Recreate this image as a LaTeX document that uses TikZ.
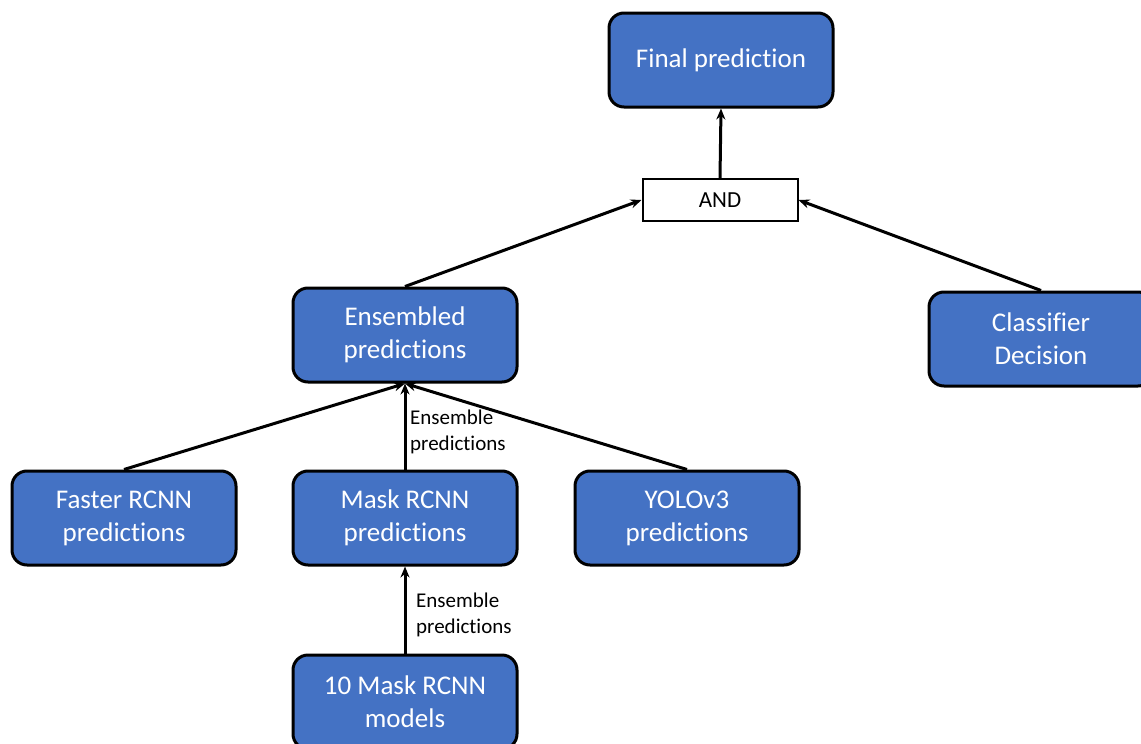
\documentclass[tikz,border=0pt]{standalone}
\usepackage{fontspec}
\setmainfont{Carlito}[Ligatures={NoCommon}]
\usepackage{xcolor}
\usetikzlibrary{arrows.meta, positioning}

\definecolor{boxblue}{HTML}{4472C4}

\tikzset{
    stage/.style={draw=black, line width=3pt, fill=boxblue, rounded corners=15pt,
        minimum width=224pt, minimum height=94pt, text=white, align=center,
        font=\fontsize{27}{33}\selectfont},
    gate/.style={draw=black, line width=2pt, fill=white,
        minimum width=155pt, minimum height=42pt, font=\fontsize{23}{27}\selectfont},
    note/.style={align=left, anchor=west, inner sep=0pt, font=\fontsize{21}{26}\selectfont},
    link/.style={line width=3pt, -{Stealth[length=11pt, width=9pt]}}
}

\begin{document}
\begin{tikzpicture}[x=1pt, y=-1pt]
                    \useasboundingbox (0, 0) rectangle (1141, 744);
                    \clip (0, 0) rectangle (1141, 744);

                    \node[stage] (final) at (721, 60) {Final prediction};
                    \node[gate] (and) at (720, 200) {AND};

                    \node[stage] (ensembled) at (405, 335) {Ensembled\\predictions};
                    \node[stage] (classifier) at (1041, 339) {Classifier\\Decision};

                    \node[stage] (faster) at (124, 518) {Faster RCNN\\predictions};
                    \node[stage] (mask) at (405, 518) {Mask RCNN\\predictions};
                    \node[stage] (yolo) at (687, 518) {YOLOv3\\predictions};

                    \node[stage] (models) at (405, 702) {10 Mask RCNN\\models};

                    \node[note] (ensnote) at (410, 432) {Ensemble\\predictions};
                    \node[note] (modelnote) at (416, 615) {Ensemble\\predictions};

                    \draw[link] (and.north) -- (final.south);
                    \draw[link] (ensembled.north) -- (and.west);
                    \draw[link] (classifier.north) -- (and.east);
                    \draw[link] (faster.north) -- (ensembled.south);
                    \draw[link] (mask.north) -- (ensembled.south);
                    \draw[link] (yolo.north) -- (ensembled.south);
                    \draw[link] (models.north) -- (mask.south);
\end{tikzpicture}
\end{document}
